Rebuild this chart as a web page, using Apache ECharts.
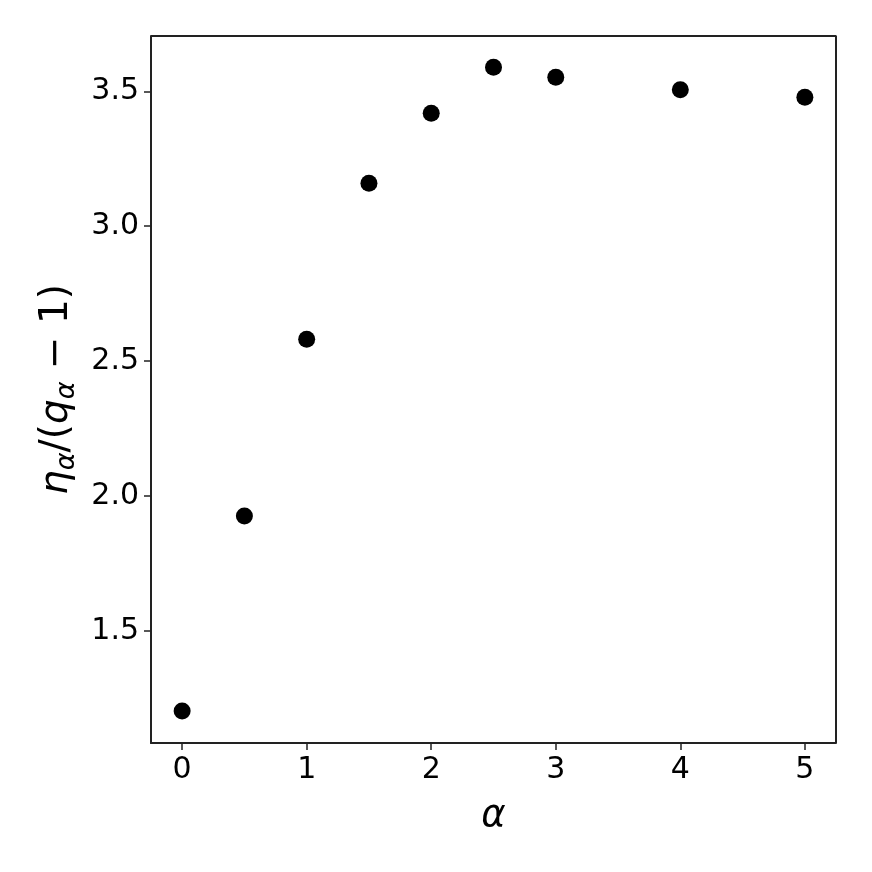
<!DOCTYPE html>
<html>
<head>
<meta charset="utf-8">
<script src="https://cdn.jsdelivr.net/npm/echarts@6/dist/echarts.min.js"></script>
<style>
  html, body { margin: 0; padding: 0; background: #fff; }
  #chart { width: 872px; height: 872px; }
</style>
</head>
<body>
<div id="chart"></div>
<script>
// data
const alphaValues = [0, 0.5, 1, 1.5, 2, 2.5, 3, 4, 5];
const ratioValues = [1.204, 1.926, 2.581, 3.159, 3.419, 3.589, 3.552, 3.506, 3.478];
const xTicks = [0, 1, 2, 3, 4, 5];
const yTicks = [1.5, 2.0, 2.5, 3.0, 3.5];

const points = alphaValues.map((a, i) => [a, ratioValues[i]]);

const chart = echarts.init(document.getElementById("chart"));
const font = "DejaVu Sans";
const option = {
  animation: false,
  backgroundColor: "#fff",
  grid: { left: 151, right: 36, top: 36, bottom: 129 },
  xAxis: {
    type: "value",
    min: -0.25,
    max: 5.25,
    name: "α",
    nameLocation: "middle",
    nameGap: 55,
    nameTextStyle: { fontFamily: font, fontSize: 37, fontStyle: "italic", color: "#000" },
    axisLine: { onZero: false, lineStyle: { color: "#222", width: 2 } },
    axisTick: { show: true, length: 7, customValues: xTicks, lineStyle: { color: "#222", width: 1.5 } },
    axisLabel: {
      customValues: xTicks,
      fontFamily: font, fontSize: 30, color: "#000", margin: 12,
      formatter: v => String(v)
    },
    splitLine: { show: false }
  },
  yAxis: {
    type: "value",
    min: 1.085,
    max: 3.705,
    name: "{i|η}{s|α}{n|/(}{i|q}{s|α}{n| − 1)}",
    nameLocation: "middle",
    nameRotate: 90,
    nameGap: 70,
    nameTextStyle: {
      color: "#000",
      rich: {
        i: { fontFamily: font, fontSize: 39, fontStyle: "italic", color: "#000", lineHeight: 48 },
        n: { fontFamily: font, fontSize: 39, color: "#000", lineHeight: 48 },
        s: { fontFamily: font, fontSize: 27, fontStyle: "italic", color: "#000", lineHeight: 48, verticalAlign: "bottom", padding: [18, 0, 0, 0] }
      }
    },
    axisLine: { show: true, onZero: false, lineStyle: { color: "#222", width: 2 } },
    axisTick: { show: true, length: 7, customValues: yTicks, lineStyle: { color: "#222", width: 1.5 } },
    axisLabel: {
      customValues: yTicks,
      fontFamily: font, fontSize: 30, color: "#000", margin: 12,
      formatter: v => v.toFixed(1)
    },
    splitLine: { show: false }
  },
  series: [
    {
      type: "scatter",
      data: points,
      symbolSize: 17,
      itemStyle: { color: "#000", opacity: 1 }
    },
    {
      // top and right frame edges
      type: "line",
      data: [[-0.25, 3.705], [5.25, 3.705], [5.25, 1.085]],
      symbol: "none",
      silent: true,
      lineStyle: { color: "#222", width: 2 }
    }
  ]
};
chart.setOption(option);
</script>
</body>
</html>
